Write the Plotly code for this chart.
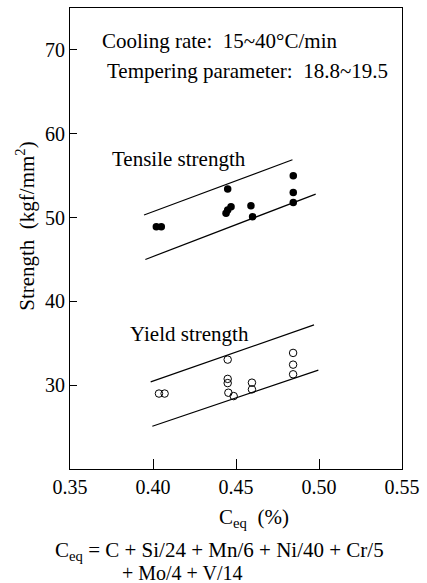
import plotly.graph_objects as go

# Tensile strength (filled circles)
ts_x = [0.402, 0.405, 0.444, 0.445, 0.447, 0.445, 0.459, 0.460, 0.4845, 0.4845, 0.4845]
ts_y = [48.9, 48.9, 50.5, 50.9, 51.3, 53.4, 51.4, 50.1, 55.0, 53.0, 51.8]

# Yield strength (open circles)
ys_x = [0.4036, 0.407, 0.445, 0.445, 0.445, 0.4454, 0.4486, 0.4596, 0.4596, 0.4844, 0.4844, 0.4844]
ys_y = [29.0, 29.0, 33.05, 30.75, 30.25, 29.1, 28.7, 30.3, 29.5, 33.85, 32.45, 31.3]

# Scatter band lines
ts_upper_x = [0.3946, 0.484]
ts_upper_y = [50.3, 56.9]
ts_lower_x = [0.3954, 0.498]
ts_lower_y = [45.0, 52.8]
ys_upper_x = [0.3986, 0.497]
ys_upper_y = [30.4, 37.2]
ys_lower_x = [0.3996, 0.4996]
ys_lower_y = [25.1, 31.8]

x_ticks = [0.35, 0.40, 0.45, 0.50, 0.55]
x_tick_labels = ["0.35", "0.40", "0.45", "0.50", "0.55"]
y_ticks = [30, 40, 50, 60, 70]

FONT = "Liberation Serif"
FS = 21
TFS = 20

fig = go.Figure()
for lx, ly in [(ts_upper_x, ts_upper_y), (ts_lower_x, ts_lower_y),
               (ys_upper_x, ys_upper_y), (ys_lower_x, ys_lower_y)]:
    fig.add_trace(go.Scatter(x=lx, y=ly, mode="lines",
                             line=dict(color="black", width=1.2),
                             showlegend=False, hoverinfo="skip"))

fig.add_trace(go.Scatter(x=ts_x, y=ts_y, mode="markers",
                         marker=dict(symbol="circle", size=7.5, color="black"),
                         showlegend=False))
fig.add_trace(go.Scatter(x=ys_x, y=ys_y, mode="markers",
                         marker=dict(symbol="circle-open", size=7.5, color="black",
                                     line=dict(width=1)),
                         showlegend=False))

fig.update_layout(
    width=427, height=583,
    margin=dict(l=70, r=23, t=7, b=114),
    plot_bgcolor="white", paper_bgcolor="white",
    font=dict(family=FONT, size=TFS, color="black"),
    xaxis=dict(range=[0.35, 0.55], tickvals=x_ticks, ticktext=x_tick_labels,
               ticks="inside", ticklen=10, tickwidth=1, tickcolor="black",
               showline=True, linecolor="black", linewidth=1.2, mirror=True,
               showgrid=False, zeroline=False,
               tickfont=dict(family=FONT, size=TFS)),
    yaxis=dict(range=[20, 75], tickvals=y_ticks,
               ticks="inside", ticklen=7, tickwidth=1, tickcolor="black",
               showline=True, linecolor="black", linewidth=1.2, mirror=True,
               showgrid=False, zeroline=False,
               tickfont=dict(family=FONT, size=TFS)),
)

def px_x(p):
    return (p - 70) / 334.0

def px_y(p):
    return (469 - p) / 462.0

ann = [
    ("Cooling rate:  15~40°C/min", 100, 40, "left", FS),
    ("Tempering parameter:  18.8~19.5", 105, 70, "left", FS),
    ("Tensile strength", 110, 158, "left", FS),
    ("Yield strength", 128, 334, "left", FS),
    ("C<sub>eq</sub>  (%)", 255, 518, "center", FS),
    ("C<sub>eq</sub> = C + Si/24 + Mn/6 + Ni/40 + Cr/5", 53, 551, "left", 21),
    ("+ Mo/4 + V/14", 120, 573, "left", 20),
]
for text, x, y, xa, fs in ann:
    fig.add_annotation(text=text, xref="paper", yref="paper",
                       x=px_x(x), y=px_y(y), xanchor=xa, yanchor="middle",
                       showarrow=False, font=dict(family=FONT, size=fs))
fig.add_annotation(text="Strength  (kgf/mm<sup>2</sup>)", xref="paper", yref="paper",
                   x=px_x(25), y=px_y(225), xanchor="center", yanchor="middle",
                   textangle=-90, showarrow=False, font=dict(family=FONT, size=FS))

fig.write_html("out.html")
